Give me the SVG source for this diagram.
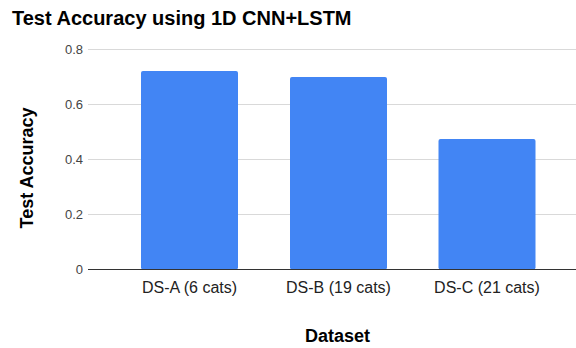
<svg xmlns="http://www.w3.org/2000/svg" width="576" height="348" viewBox="0 0 576 348">
  <style>
    .title { font-family: "Liberation Sans", Arial, sans-serif; font-weight: bold; font-size: 20px; fill: #000; }
    .axis-title { font-family: "Liberation Sans", Arial, sans-serif; font-weight: bold; font-size: 18px; fill: #000; }
    .tick { font-family: "Liberation Sans", Arial, sans-serif; font-size: 13px; fill: #444; text-anchor: end; }
    .cat { font-family: "Liberation Sans", Arial, sans-serif; font-size: 16px; fill: #222; text-anchor: middle; }
    .grid { stroke: #d9d9d9; stroke-width: 1; }
    .bar { fill: #4285f4; }
  </style>
  <rect width="576" height="348" fill="#fff"/>

  <text class="title" x="12" y="25">Test Accuracy using 1D CNN+LSTM</text>

  <!-- gridlines and y ticks -->
  <g id="gridlines">
    <line class="grid" x1="88" y1="49.5" x2="576" y2="49.5"/>
    <line class="grid" x1="88" y1="104.5" x2="576" y2="104.5"/>
    <line class="grid" x1="88" y1="159.5" x2="576" y2="159.5"/>
    <line class="grid" x1="88" y1="214.5" x2="576" y2="214.5"/>
  </g>
  <g id="y-ticks">
    <text class="tick" x="83" y="54">0.8</text>
    <text class="tick" x="83" y="109">0.6</text>
    <text class="tick" x="83" y="164">0.4</text>
    <text class="tick" x="83" y="219">0.2</text>
    <text class="tick" x="83" y="274">0</text>
  </g>

  <!-- bars -->
  <g id="bar-ds-a"><rect class="bar" x="141" y="71" width="97" height="198.5" rx="2"/></g>
  <g id="bar-ds-b"><rect class="bar" x="290" y="77" width="97" height="192.5" rx="2"/></g>
  <g id="bar-ds-c"><rect class="bar" x="438.5" y="139" width="97" height="130.5" rx="2"/></g>

  <!-- baseline -->
  <line x1="88" y1="269.5" x2="576" y2="269.5" stroke="#333" stroke-width="1"/>

  <!-- category labels -->
  <g id="x-labels">
    <text class="cat" x="189.5" y="292.5">DS-A (6 cats)</text>
    <text class="cat" x="338.5" y="292.5">DS-B (19 cats)</text>
    <text class="cat" x="487" y="292.5">DS-C (21 cats)</text>
  </g>

  <text class="axis-title" x="337.5" y="342" text-anchor="middle">Dataset</text>
  <text class="axis-title" transform="translate(33 168) rotate(-90)" text-anchor="middle">Test Accuracy</text>
</svg>
